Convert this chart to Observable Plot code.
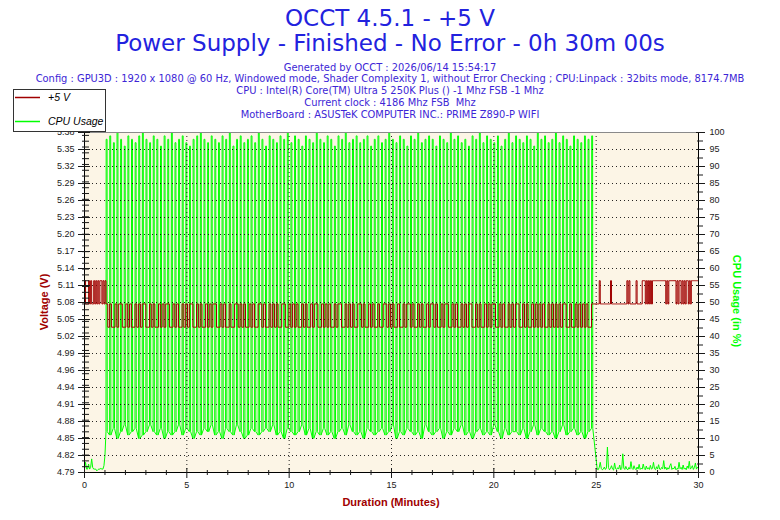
<!DOCTYPE html>
<html><head><meta charset="utf-8">
<script src="https://cdn.jsdelivr.net/npm/d3@7"></script>
<script src="https://cdn.jsdelivr.net/npm/@observablehq/plot@0.6"></script>
<style>
html,body{margin:0;padding:0;background:#fff;}
#wrap{position:relative;width:780px;height:520px;overflow:hidden;}
#wrap svg{position:absolute;left:0;top:0;}
</style></head><body><div id="wrap"></div>
<script>
// ---- texts ----
const titleLines = ["OCCT 4.5.1 - +5 V", "Power Supply - Finished - No Error - 0h 30m 00s"];
const infoLines = [
  "Generated by OCCT : 2026/06/14 15:54:17",
  "Config : GPU3D : 1920 x 1080 @ 60 Hz, Windowed mode, Shader Complexity 1, without Error Checking ; CPU:Linpack : 32bits mode, 8174.7MB",
  "CPU : Intel(R) Core(TM) Ultra 5 250K Plus () -1 Mhz FSB -1 Mhz",
  "Current clock : 4186 Mhz FSB  Mhz",
  "MotherBoard : ASUSTeK COMPUTER INC.: PRIME Z890-P WIFI"
];
const legendLabels = ["+5 V", "CPU Usage"];
const xAxisTitle = "Duration (Minutes)";
const leftAxisTitle = "Voltage (V)";
const rightAxisTitle = "CPU Usage (in %)";

// ---- tick labels ----
const xTicks = [0, 5, 10, 15, 20, 25, 30];
const xMinorTicks = [1,2,3,4,6,7,8,9,11,12,13,14,16,17,18,19,21,22,23,24,26,27,28,29];
const cpuTicks = [0,5,10,15,20,25,30,35,40,45,50,55,60,65,70,75,80,85,90,95,100];
const voltTickLabels = ["4.79","4.82","4.85","4.88","4.91","4.94","4.96","4.99","5.02","5.05","5.08",
                        "5.11","5.14","5.17","5.20","5.23","5.26","5.29","5.32","5.35","5.38"];
const voltDomain = [4.79, 5.375];

// ---- data: idle start (samples every 0.05 min from 0) ----
const startStep = 0.05;
const voltStart = [5.12,5.08,5.08,5.08,5.12,5.08,5.12,5.08,5.08,5.12,5.08,5.12,5.08,5.12,5.08,5.12,5.12,5.08,5.12,5.08,5.12];
const cpuStart  = [1.5,3.0,1.0,1.0,2.5,1.0,1.5,4.0,1.5,1.0,1.0,1.0,0.5,0.8,1.0,1.0,1.2,1.0,1.0,2.0,5.0];

// ---- data: load phase (Linpack cycles) ----
const loadStart = 1.05, loadEnd = 24.95;
const cpuPeaks = [
  98,99,97,100,98,96,99,98,97,99,100,98,97,99,98,
  96,99,98,100,97,98,99,97,96,98,99,100,98,97,99,
  98,97,99,98,100,96,98,99,97,98,99,97,100,98,96,
  99,98,97,99,98,100,97,99,98,96,99,98,97,100,98,
  97,99,98,96,99,98,100,97,98,99,97,98,99,96,98,
  99,97,98,100,98,97,99,98,96,99,98,100,97,98,99,
  98,96,99,98,97,100,98,99,97,98,96,99,98,100,97,
  99,98,97,99,96,98,100,97,99,98,97,99,98,96,100,
  98,99,97,98,100,97,99,98,96,99,98,97,99,98,99
];
const cpuTroughs = [
  12,11,13,10,12,14,11,12,13,10,11,12,14,12,11,
  13,10,12,11,12,14,11,13,12,10,12,11,13,12,14,
  11,12,10,13,12,11,14,12,10,11,13,12,11,12,13,
  12,14,11,12,10,13,12,11,12,14,11,13,10,12,11,
  13,11,12,10,12,13,11,14,12,11,12,10,13,12,11,
  12,13,11,12,14,10,12,11,13,12,11,12,10,14,12,
  11,12,13,10,12,11,13,12,14,11,12,10,12,13,11,
  12,11,14,12,10,13,11,12,12,11,13,10,12,14,11,
  13,12,11,12,10,12,14,11,12,13,11,12,10,12,13
];
const voltLoad = [
  5.08,5.04,5.08,5.04,5.04,5.08,5.04,5.08,5.08,5.04,
  5.04,5.08,5.04,5.08,5.04,5.04,5.08,5.04,5.08,5.04,
  5.08,5.08,5.04,5.04,5.08,5.04,5.08,5.04,5.04,5.08,
  5.04,5.08,5.04,5.08,5.08,5.04,5.04,5.08,5.04,5.08,
  5.04,5.04,5.08,5.04,5.08,5.04,5.08,5.08,5.04,5.04,
  5.08,5.04,5.08,5.04,5.04,5.08,5.04,5.08,5.04,5.08,
  5.08,5.04,5.04,5.08,5.04,5.08,5.04,5.04,5.08,5.04,
  5.04,5.08,5.08,5.04,5.08,5.04,5.08,5.04,5.04,5.08,
  5.04,5.08,5.04,5.04,5.08,5.08,5.04,5.08,5.04,5.04,
  5.08,5.04,5.08,5.04,5.08,5.04,5.04,5.08,5.08,5.04,
  5.04,5.08,5.04,5.08,5.04,5.08,5.04,5.04,5.08,5.04,
  5.08,5.04,5.04,5.08,5.04,5.08,5.08,5.04,5.04,5.08,
  5.04,5.08,5.04,5.08,5.04,5.04,5.08,5.04,5.08,5.08,
  5.04,5.04,5.08,5.04,5.08,5.04,5.08,5.04,5.04,5.08,
  5.08,5.04,5.08,5.04,5.04,5.08,5.04,5.08,5.04,5.04,
  5.08,5.04,5.04,5.08,5.08,5.04,5.08,5.04,5.08,5.04,
  5.04,5.08,5.04,5.04,5.08,5.04,5.08,5.08,5.04,5.08,
  5.04,5.04,5.08,5.04,5.08,5.04,5.04,5.08,5.04,5.08,
  5.08,5.04,5.08,5.04,5.04,5.08,5.04,5.08,5.08,5.04,
  5.04,5.08,5.04,5.08,5.04,5.04,5.08,5.04,5.08,5.04,
  5.08,5.08,5.04,5.04,5.08,5.04,5.08,5.04,5.04,5.08,
  5.04,5.08,5.04,5.08,5.08,5.04,5.04,5.08,5.04,5.08,
  5.04,5.04,5.08,5.04,5.08,5.04,5.08,5.08,5.04,5.04,
  5.08,5.04,5.08,5.04,5.04,5.08,5.04,5.08,5.04,5.08,
  5.04,5.08,5.04,5.04,5.08,5.04,5.08,5.04,5.08,5.04,
  5.08,5.04,5.08,5.08,5.04,5.04,5.08,5.04,5.04,5.08,
  5.04,5.08,5.04,5.08,5.04,5.08,5.04,5.04,5.08,5.08
];

// ---- data: idle end (samples every 0.05 min from 25.05) ----
const endStart = 25.05, endStep = 0.05;
const voltEnd = [
  5.08,5.08,5.12,5.08,5.08,5.08,5.08,5.08,5.08,5.08,
  5.08,5.08,5.08,5.12,5.08,5.08,5.08,5.08,5.08,5.08,
  5.08,5.08,5.08,5.08,5.08,5.08,5.08,5.08,5.08,5.12,
  5.08,5.12,5.08,5.08,5.08,5.08,5.08,5.08,5.12,5.08,
  5.08,5.08,5.08,5.08,5.12,5.12,5.12,5.08,5.12,5.08,
  5.12,5.08,5.12,5.08,5.12,5.12,5.12,5.12,5.12,5.12,
  5.12,5.12,5.12,5.12,5.12,5.12,5.12,5.08,5.12,5.08,
  5.12,5.12,5.12,5.12,5.12,5.12,5.12,5.08,5.12,5.08,
  5.12,5.12,5.08,5.12,5.08,5.12,5.08,5.12,5.12,5.08,
  5.12,5.08,5.12,5.12,5.12,5.12,5.12,5.12,5.12,5.12
];
const cpuEnd = [
  1.0,0.8,1.5,3.0,1.2,0.8,1.0,1.6,0.9,1.3,
  7.5,1.5,0.8,1.2,2.0,1.0,0.7,2.8,1.1,0.9,
  1.4,1.0,2.2,0.8,1.2,5.5,1.3,0.9,1.8,1.0,
  0.8,1.5,1.0,3.2,1.2,0.9,2.0,1.1,0.8,1.6,
  1.0,2.4,0.9,1.3,1.0,2.5,1.2,0.8,1.9,1.0,
  1.4,0.9,2.1,1.0,1.2,3.0,1.1,0.8,1.7,1.0,
  2.3,1.0,0.9,1.5,1.1,3.5,1.0,1.6,0.8,1.4,
  1.0,2.0,2.6,0.9,1.3,1.1,1.8,0.8,1.2,1.0,
  3.0,1.1,1.5,0.9,2.2,1.0,1.3,0.8,1.9,1.2,
  3.3,1.0,1.4,2.0,0.9,1.5,2.8,1.0,1.6,1.2
];

// ---- build series ----
const period = (loadEnd - loadStart) / cpuPeaks.length;
const cpuData = [];
cpuStart.forEach((v, i) => cpuData.push({t: i * startStep, v}));
cpuPeaks.forEach((p, i) => {
  const t0 = loadStart + i * period;
  cpuData.push({t: t0, v: cpuTroughs[i]});
  cpuData.push({t: t0 + 0.05 * period, v: p});
  cpuData.push({t: t0 + 0.30 * period, v: p});
  cpuData.push({t: t0 + 0.35 * period, v: cpuTroughs[i]});
});
cpuEnd.forEach((v, i) => cpuData.push({t: endStart + i * endStep, v}));

const voltData = [];
voltStart.forEach((v, i) => voltData.push({t: i * startStep, v}));
voltLoad.forEach((v, k) => voltData.push({t: loadStart + k * period / 2, v}));
voltEnd.forEach((v, i) => voltData.push({t: endStart + i * endStep, v}));

const vToPct = d3.scaleLinear(voltDomain, [0, 100]);
const leftMinor = d3.range(480, 538).map(c => vToPct(c / 100)).filter(p => p > 0 && p < 100);
const rightMinor = cpuTicks.slice(0, -1).map(d => d + 2.5);

const RED = "#A00000", GREEN = "#00FF00", TXT = "#1a1a1a";

const chart = Plot.plot({
  width: 780, height: 520,
  marginTop: 132, marginBottom: 48, marginLeft: 84, marginRight: 82,
  x: {domain: [0, 30]},
  y: {domain: [0, 100]},
  style: {background: "transparent", fontFamily: "'Liberation Sans', Arial, sans-serif", fontSize: "9px", color: TXT},
  marks: [
    Plot.frame({fill: "#FCF5E6", stroke: null}),
    Plot.line(cpuData, {x: "t", y: "v", stroke: GREEN, strokeWidth: 1}),
    Plot.gridY(cpuTicks.filter(d => d > 0 && d < 100), {stroke: "#000", strokeOpacity: 0.85, strokeDasharray: "1,3"}),
    Plot.gridX(xTicks.filter(d => d > 0 && d < 30), {stroke: "#000", strokeOpacity: 0.85, strokeDasharray: "1,3"}),
    Plot.line(voltData, {x: "t", y: d => vToPct(d.v), stroke: RED, strokeWidth: 1, curve: "step-after"}),
    Plot.ruleY([100], {stroke: "#8a8a8a"}),
    Plot.ruleX([0, 30], {stroke: "#000"}),
    Plot.ruleY([0], {stroke: "#000"}),
    Plot.axisY(leftMinor, {anchor: "left", tickSize: 7, dx: 5, tickFormat: () => "", label: null}),
    Plot.axisY(cpuTicks, {anchor: "left", tickSize: 12, dx: 6, tickPadding: 4, tickFormat: d => voltTickLabels[Math.round(d / 5)], label: null}),
    Plot.axisY(rightMinor, {anchor: "right", tickSize: 6, dx: -2, tickFormat: () => "", label: null}),
    Plot.axisY(cpuTicks, {anchor: "right", tickSize: 9, dx: -3, tickPadding: 5, tickFormat: d => String(d), label: null}),
    Plot.axisX(xMinorTicks, {anchor: "bottom", tickSize: 5, dy: -2, tickFormat: () => "", label: null}),
    Plot.axisX(xTicks, {anchor: "bottom", tickSize: 10, dy: -4, tickPadding: 3, tickFormat: d => String(d), label: null})
  ]
});
const wrap = document.getElementById("wrap");
wrap.appendChild(chart);

// ---- overlay: titles, axis titles, legend ----
const ov = d3.create("svg").attr("width", 780).attr("height", 520);
const TITLE = "#2222DE", INFO = "#3D26D6";
ov.append("text").attr("x", 390).attr("y", 26).attr("text-anchor", "middle")
  .attr("font-family", "'DejaVu Sans', Verdana, sans-serif").attr("font-size", 23).attr("fill", TITLE).text(titleLines[0]);
ov.append("text").attr("x", 390).attr("y", 51).attr("text-anchor", "middle")
  .attr("font-family", "'DejaVu Sans', Verdana, sans-serif").attr("font-size", 23).attr("fill", TITLE).text(titleLines[1]);
infoLines.forEach((s, i) => {
  ov.append("text").attr("x", 390).attr("y", 70.5 + i * 11.8).attr("text-anchor", "middle")
    .attr("font-family", "'DejaVu Sans', Verdana, sans-serif").attr("font-size", 9.9).attr("fill", INFO)
    .style("white-space", "pre").text(s);
});
const axisFont = "'Liberation Sans', Arial, sans-serif";
ov.append("text").attr("transform", "translate(48,302) rotate(-90)").attr("text-anchor", "middle")
  .attr("font-family", axisFont).attr("font-size", 11).attr("font-weight", "bold").attr("fill", RED).text(leftAxisTitle);
ov.append("text").attr("transform", "translate(733,301) rotate(90)").attr("text-anchor", "middle")
  .attr("font-family", axisFont).attr("font-size", 11).attr("font-weight", "bold").attr("fill", GREEN).text(rightAxisTitle);
ov.append("text").attr("x", 391).attr("y", 506).attr("text-anchor", "middle")
  .attr("font-family", axisFont).attr("font-size", 11).attr("font-weight", "bold").attr("fill", RED).text(xAxisTitle);

const lg = ov.append("g");
lg.append("rect").attr("x", 13.5).attr("y", 89.5).attr("width", 92).attr("height", 42).attr("fill", "#fff").attr("stroke", "#333");
[[RED, 97.5, 101], [GREEN, 121.5, 125]].forEach(([c, ly, ty], i) => {
  lg.append("line").attr("x1", 15).attr("x2", 40).attr("y1", ly).attr("y2", ly).attr("stroke", c).attr("stroke-width", 1.5);
  lg.append("text").attr("x", 48).attr("y", ty).attr("font-family", axisFont).attr("font-size", 10.5)
    .attr("font-style", "italic").attr("fill", "#000").text(legendLabels[i]);
});
wrap.appendChild(ov.node());
</script></body></html>
